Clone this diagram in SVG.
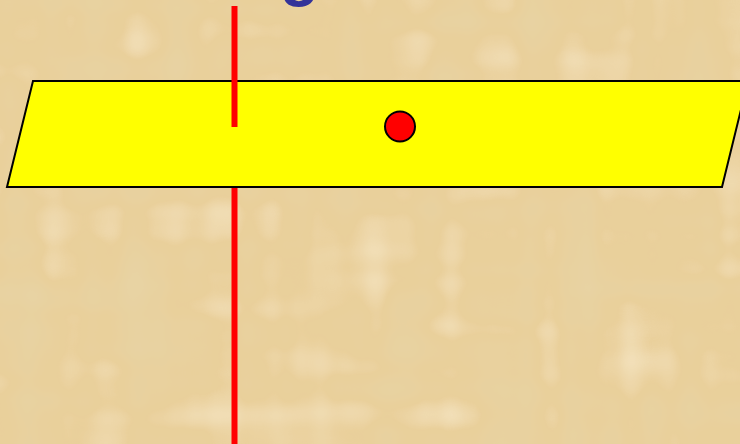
<svg xmlns="http://www.w3.org/2000/svg" width="740" height="444" viewBox="0 0 740 444">
  <style>
    .plane { fill: #FFFF00; stroke: #000000; stroke-width: 2; stroke-linejoin: miter; }
    .redline { stroke: #FF0000; stroke-width: 6; fill: none; }
    .dot { fill: #FF0000; stroke: #000000; stroke-width: 2; }
    .title { font-family: "Liberation Sans", Arial, sans-serif; font-weight: bold; fill: #333399; }
  </style>
  <defs>
    <filter id="paper" x="0" y="0" width="740" height="444" filterUnits="userSpaceOnUse">
      <feTurbulence type="fractalNoise" baseFrequency="0.025 0.004" numOctaves="2" seed="3" result="v"/>
      <feTurbulence type="fractalNoise" baseFrequency="0.004 0.025" numOctaves="2" seed="7" result="h"/>
      <feComposite in="v" in2="h" operator="arithmetic" k2="0.5" k3="0.5" result="n0"/>
      <feGaussianBlur in="n0" stdDeviation="2.5" result="n"/>
      <feColorMatrix in="n" type="matrix" values="0 0 0 0 0.80  0 0 0 0 0.66  0 0 0 0 0.38  2.6 0 0 0 -1.2" result="dark"/>
      <feColorMatrix in="n" type="matrix" values="0 0 0 0 0.96  0 0 0 0 0.85  0 0 0 0 0.63  -2.4 0 0 0 1.15" result="light"/>
      <feFlood flood-color="#E9CF9A" result="base"/>
      <feComposite in="light" in2="base" operator="over" result="b2"/>
      <feComposite in="dark" in2="b2" operator="over"/>
    </filter>
  </defs>
  <g id="background">
    <rect x="0" y="0" width="740" height="444" fill="#E9CF9A" filter="url(#paper)"/>
  </g>
  <g id="title">
    <text class="title" x="280" y="-6" font-size="64">g</text>
  </g>
  <g id="connectors">
    <line class="redline" x1="234.5" y1="187" x2="234.5" y2="444"/>
  </g>
  <g id="plane">
    <polygon class="plane" points="33,81 748,81 722,187 7,187"/>
  </g>
  <g id="line-upper">
    <line class="redline" x1="234.5" y1="6" x2="234.5" y2="127"/>
  </g>
  <g id="point">
    <circle class="dot" cx="400" cy="126.5" r="15"/>
  </g>
</svg>
